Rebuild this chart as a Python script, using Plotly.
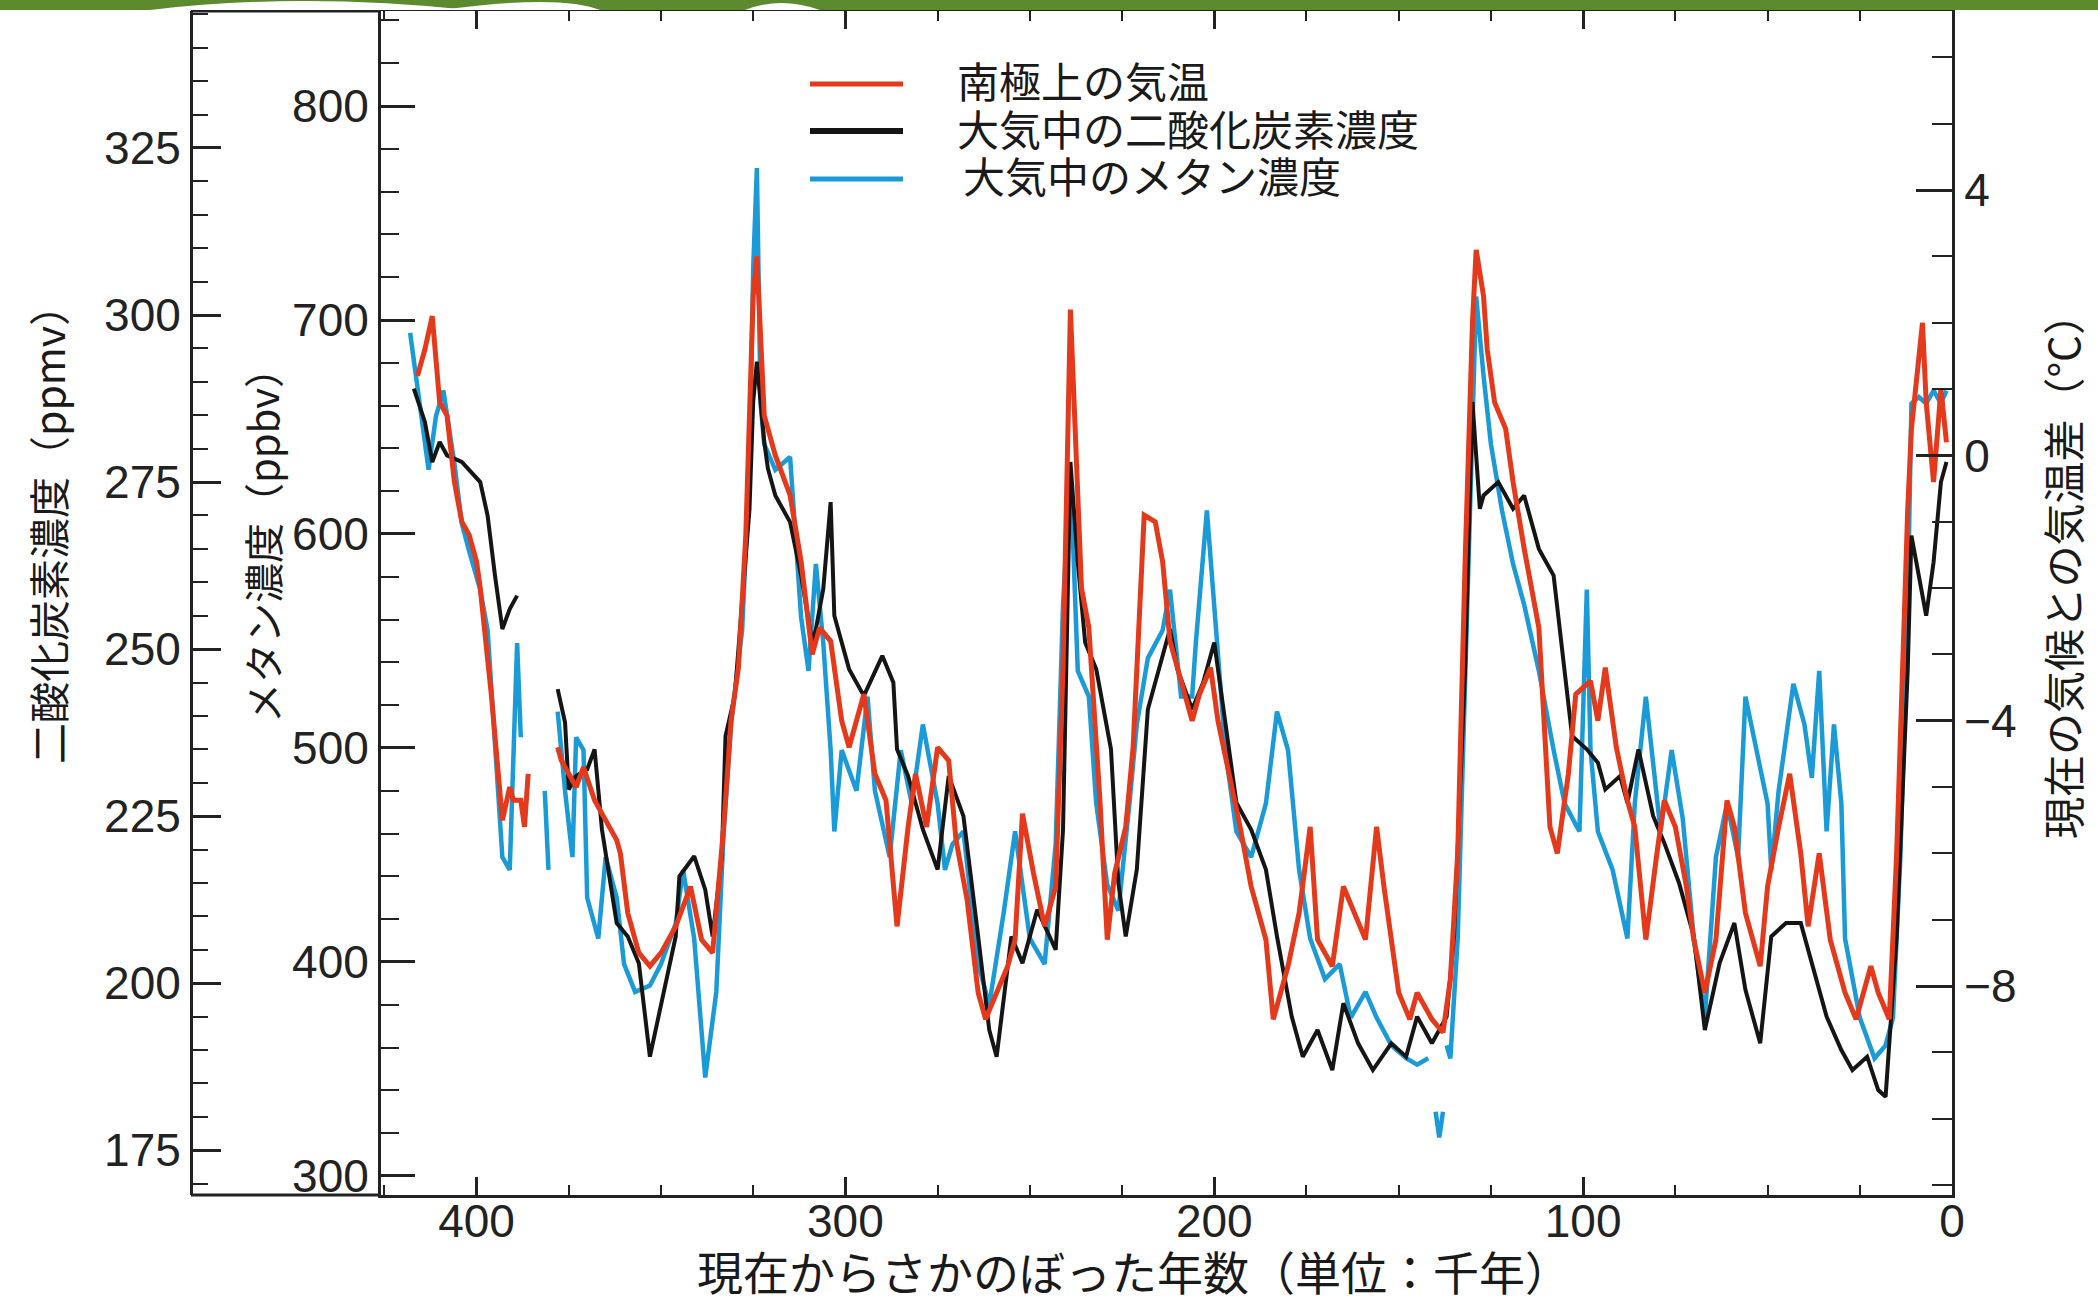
import plotly.graph_objects as go

# ---------------- data ----------------
# CO2 (ppmv) vs age (kyr before present)
co2_age = [417, 414, 412, 410, 408, 404, 399, 397, 395, 393,
           391, 389, 383, 378, 376, 375, 373, 370, 368, 366,
           362, 359, 356, 353, 350, 346, 345, 341, 338, 336,
           333.5, 332.5, 330, 328, 326, 325, 324, 322, 321, 319,
           315, 312, 309, 308, 306, 304, 303, 299, 295, 290,
           287, 286, 283, 279, 275, 272, 268, 264, 261, 259,
           255, 252, 248, 243, 241, 239, 237, 235, 232, 228,
           226, 224, 221, 218, 214, 212, 210, 206, 203, 200,
           197, 194, 190, 186, 183, 179, 176, 172, 168, 165,
           161, 157, 152, 148, 145, 141, 137, 135, 132, 130,
           128, 127, 123, 119, 116, 112, 108, 105, 103, 99,
           96, 94, 90, 88, 85, 81, 78, 74, 70, 67,
           63, 59, 56, 52, 49, 45, 41, 38, 34, 30,
           27, 23, 20, 18, 15, 12, 11, 9, 7, 5,
           3, 1.5]
co2_ppmv = [289, 284, 278, 281, 279, 278, 275, 270, 261, 253,
            256, 258, None, 244, 239, 229, 231, 232, 235, 223,
            209, 207, 203, 189, 197, 207, 216, 219, 214, 207,
            219, 237, 243, 257, 271, 287, 293, 281, 277, 273,
            269, 261, 251, 253, 259, 272, 255, 247, 243, 249,
            245, 235, 231, 223, 217, 231, 225, 207, 193, 189,
            207, 203, 211, 205, 223, 278, 263, 251, 247, 235,
            215, 207, 217, 241, 249, 253, 247, 241, 245, 251,
            239, 227, 223, 217, 207, 195, 189, 193, 187, 197,
            191, 187, 191, 189, 195, 191, 195, 207, 247, 287,
            271, 273, 275, 271, 273, 265, 261, 247, 237, 235,
            233, 229, 231, 227, 235, 225, 221, 215, 207, 193,
            203, 209, 199, 191, 207, 209, 209, 203, 195, 190,
            187, 189, 184, 183, 207, 247, 267, 261, 255, 263,
            275, 278]

# CH4 (ppbv) vs age (kyr before present)
ch4_age = [418, 416, 414, 413, 411, 409, 406, 404, 402, 400,
           399, 397, 395, 393, 391, 390, 389, 388, 385, 381.5,
           380.5, 380, 378, 376, 374, 373, 371, 370, 367, 365,
           362, 360, 357, 353, 350, 346, 344, 341, 338, 335,
           333, 331, 328, 326, 325, 324, 323, 322, 319, 315,
           312, 310, 308, 306, 304, 303, 301, 297, 294, 292,
           288, 285, 282, 279, 275, 273, 271, 268, 264, 261,
           257, 254, 250, 246, 243, 241, 239, 237, 234, 232,
           229, 226, 223, 221, 218, 214, 212, 209, 206, 205,
           202, 200, 197, 194, 190, 186, 183, 180, 177, 174,
           170, 166, 163, 159, 156, 152, 148, 145, 142, 141,
           140, 139, 138, 137.5, 137, 136, 134, 132, 130, 129,
           127, 125, 122, 119, 116, 112, 108, 105, 101, 99,
           98, 96, 92, 88, 86, 83, 79, 76, 73, 70,
           67, 64, 61, 58, 56, 53, 50, 49, 47, 43,
           40, 38, 36, 34, 32, 30, 29, 25, 21, 18,
           16, 14, 12, 11, 9, 7, 5, 3, 1.5]
ch4_ppbv = [694, 668, 642, 630, 655, 667, 633, 605, 592, 580,
            574, 555, 499, 449, 443, 499, 549, 505, None, 480,
            443, None, 517, 480, 449, 505, 499, 430, 411, 449,
            430, 399, 386, 389, 399, 418, 443, 411, 346, 386,
            461, 511, 555, 630, 724, 771, 661, 642, 630, 636,
            561, 536, 586, 549, 499, 461, 499, 480, 524, 480,
            449, 499, 474, 511, 474, 443, 455, 461, 399, 380,
            424, 461, 411, 399, 455, 567, 630, 536, 524, 474,
            436, 424, 474, 511, 542, 555, 574, 524, 524, 549,
            611, 567, 499, 461, 449, 474, 517, 499, 443, 411,
            392, 399, 374, 386, 374, 361, 355, 352, 355, None,
            330, 318, 330, None, 361, 355, 411, 536, 661, 711,
            674, 642, 611, 586, 567, 536, 499, 474, 461, 574,
            499, 461, 443, 411, 474, 524, 461, 499, 467, 411,
            374, 449, 474, 449, 524, 499, 474, 443, 480, 530,
            511, 486, 536, 461, 511, 474, 411, 374, 355, 361,
            374, 449, 567, 661, 664, 661, 667, 661, 667]

# Antarctic temperature difference from present (deg C) vs age (kyr)
temp_age = [416, 414, 412, 410, 408, 406, 404, 402, 400, 399,
            396, 394, 393, 391, 390, 388, 387, 386, 382, 378,
            377, 375, 373, 371, 368, 366, 362, 361, 359, 356,
            353, 350, 346, 342, 339, 336, 333, 331, 329, 327,
            325, 324, 323, 322, 319, 315, 312, 309, 307, 304,
            301, 299, 295, 292, 289, 286, 283, 281, 278, 275,
            272, 270, 267, 264, 262, 259, 256, 254, 252, 249,
            246, 243, 241, 239, 238, 236, 234, 231, 229, 227,
            224, 222, 219, 216, 214, 212, 209, 206, 204, 201,
            199, 196, 193, 190, 186, 184, 180, 177, 174, 172,
            168, 165, 162, 159, 156, 154, 150, 147, 145, 141,
            138, 136, 134, 132, 130, 129, 127, 126, 124, 121,
            119, 116, 112, 109, 107, 104, 102, 98, 96, 94,
            91, 88, 86, 83, 80, 78, 75, 72, 70, 67,
            64, 61, 59, 56, 52, 50, 47, 44, 41, 39,
            36, 33, 29, 26, 22, 20, 17, 15, 12, 11,
            8, 7, 5, 3, 1.5]
temp_c = [1.2, 1.6, 2.1, 0.8, 0.6, -0.4, -1.0, -1.2, -1.6, -2.0,
          -3.6, -5.0, -5.5, -5.0, -5.2, -5.2, -5.6, -4.8, None, -4.4,
          -4.6, -4.8, -5.0, -4.7, -5.2, -5.4, -5.8, -6.0, -6.9, -7.5,
          -7.7, -7.5, -7.1, -6.5, -7.3, -7.5, -5.6, -4.0, -3.2, -1.2,
          2.4, 3.0, 1.6, 0.6, 0.0, -0.6, -1.6, -3.0, -2.6, -2.8,
          -4.0, -4.4, -3.6, -4.8, -5.2, -7.1, -5.6, -4.8, -5.6, -4.4,
          -4.6, -5.8, -6.7, -8.1, -8.5, -8.1, -7.7, -7.3, -5.4, -6.3,
          -7.1, -6.5, -3.2, 2.2, 0.8, -2.0, -2.6, -5.2, -7.3, -6.3,
          -5.6, -4.4, -0.9, -1.0, -1.6, -2.8, -3.4, -4.0, -3.6, -3.2,
          -4.0, -4.8, -5.6, -6.5, -7.3, -8.5, -7.7, -6.9, -5.6, -7.3,
          -7.7, -6.5, -6.9, -7.3, -5.6, -6.5, -8.1, -8.5, -8.1, -8.5,
          -8.7, -7.9, -6.0, -1.6, 2.0, 3.1, 2.4, 1.6, 0.8, 0.4,
          -0.4, -1.4, -2.6, -5.6, -6.0, -4.8, -3.6, -3.4, -4.0, -3.2,
          -4.4, -5.2, -5.6, -7.3, -6.0, -5.2, -5.6, -6.5, -7.3, -8.1,
          -7.3, -5.2, -5.6, -6.9, -7.7, -6.5, -5.6, -4.8, -6.0, -7.1,
          -6.0, -7.3, -8.1, -8.5, -7.7, -8.1, -8.5, -6.0, -0.8, 0.4,
          2.0, 0.8, -0.4, 1.0, 0.2]

series_names = ["南極上の気温", "大気中の二酸化炭素濃度", "大気中のメタン濃度"]
series_colors = ["#e5391b", "#151515", "#1a9bd7"]

x_ticks = [400, 300, 200, 100, 0]

# ---------------- figure ----------------
W, H = 2098, 1304
def px(x):
    return x / W
def py(y):
    return 1 - y / H

NUM_FONT = "Liberation Sans, Arial, sans-serif"
JP_FONT = "Noto Sans CJK JP, sans-serif"
AX = "#222222"
TXT = "#1a1a1a"

fig = go.Figure()
fig.add_trace(go.Scatter(x=temp_age, y=temp_c, mode="lines", name=series_names[0],
                         line=dict(color=series_colors[0], width=5), yaxis="y3",
                         showlegend=False))
fig.add_trace(go.Scatter(x=ch4_age, y=ch4_ppbv, mode="lines", name=series_names[2],
                         line=dict(color=series_colors[2], width=4.5), yaxis="y",
                         showlegend=False))
fig.add_trace(go.Scatter(x=co2_age, y=co2_ppmv, mode="lines", name=series_names[1],
                         line=dict(color=series_colors[1], width=4), yaxis="y2",
                         showlegend=False))

ydom = [py(1195), py(11)]
TICKFONT = dict(family=NUM_FONT, size=46, color=AX)

fig.update_layout(
    width=W, height=H, autosize=False,
    margin=dict(l=0, r=0, t=0, b=0),
    paper_bgcolor="white", plot_bgcolor="rgba(0,0,0,0)",
    xaxis=dict(
        domain=[px(381), px(1952)], range=[425.9, 0],
        tickmode="array", tickvals=x_ticks, ticktext=[str(v) for v in x_ticks],
        ticks="inside", ticklen=18, tickwidth=2.5, tickcolor=AX,
        minor=dict(dtick=25, tick0=0, ticks="inside", ticklen=10, tickwidth=2, tickcolor=AX),
        showline=True, linewidth=3, linecolor=AX, mirror="ticks",
        showgrid=False, zeroline=False, automargin=False,
        ticklabelstandoff=-16,
        tickfont=TICKFONT,
    ),
    yaxis=dict(
        domain=ydom, range=[291.1, 844.4], anchor="x", side="left",
        tick0=0, dtick=100,
        ticks="inside", ticklen=34, tickwidth=2.5, tickcolor=AX,
        minor=dict(dtick=20, tick0=0, ticks="inside", ticklen=18, tickwidth=2, tickcolor=AX),
        showline=True, linewidth=3, linecolor=AX,
        showgrid=False, zeroline=False, automargin=False,
        tickfont=TICKFONT,
    ),
    yaxis2=dict(
        overlaying="y", anchor="free", position=px(191), side="left",
        range=[168.3, 345.5], tick0=0, dtick=25,
        ticks="inside", ticklen=28, tickwidth=2.5, tickcolor=AX,
        minor=dict(dtick=5, tick0=0, ticks="inside", ticklen=15, tickwidth=2, tickcolor=AX),
        showline=True, linewidth=3, linecolor=AX,
        showgrid=False, zeroline=False, automargin=False,
        tickfont=TICKFONT,
    ),
    yaxis3=dict(
        overlaying="y", anchor="x", side="right",
        range=[-11.15, 6.70], tick0=0, dtick=4,
        ticks="inside", ticklen=36, tickwidth=2.5, tickcolor=AX,
        minor=dict(dtick=1, tick0=0, ticks="inside", ticklen=20, tickwidth=2, tickcolor=AX),
        showline=True, linewidth=3, linecolor=AX,
        showgrid=False, zeroline=False, automargin=False,
        tickfont=TICKFONT,
    ),
)

shapes = []
# frame extension from CO2 axis to methane axis (top and bottom)
for yy in (1195, 11):
    shapes.append(dict(type="line", xref="paper", yref="paper",
                       x0=px(191), x1=px(381), y0=py(yy), y1=py(yy),
                       line=dict(color=AX, width=3)))
# green band across the top
shapes.append(dict(type="rect", xref="paper", yref="paper", x0=0, x1=1,
                   y0=py(10), y1=1, fillcolor="#5c8a2e", line=dict(width=0), layer="above"))
shapes.append(dict(type="path", xref="paper", yref="paper",
                   path=f"M {px(150)},{py(10)} Q {px(300)},{py(-8)} {px(470)},{py(10)} Z",
                   fillcolor="white", line=dict(width=0), layer="above"))
shapes.append(dict(type="path", xref="paper", yref="paper",
                   path=f"M {px(440)},{py(10)} Q {px(560)},{py(-6)} {px(600)},{py(10)} Z",
                   fillcolor="white", line=dict(width=0), layer="above"))
shapes.append(dict(type="path", xref="paper", yref="paper",
                   path=f"M {px(745)},{py(10)} Q {px(780)},{py(-4)} {px(820)},{py(10)} Z",
                   fillcolor="white", line=dict(width=0), layer="above"))
# manual legend sample lines
leg_y = [84, 131, 179]
for c, yy, w in zip(series_colors, leg_y, [5, 6, 5]):
    shapes.append(dict(type="line", xref="paper", yref="paper",
                       x0=px(810), x1=px(903), y0=py(yy), y1=py(yy),
                       line=dict(color=c, width=w)))

annotations = []
leg_text_y = [80, 127, 175]
leg_text_x = [955, 955, 961]
for name, yy, xx in zip(series_names, leg_text_y, leg_text_x):
    annotations.append(dict(text=name, xref="paper", yref="paper", x=px(xx), y=py(yy),
                            xanchor="left", yanchor="middle", showarrow=False,
                            font=dict(family=JP_FONT, size=42, color=TXT)))

annotations += [
    dict(text="二酸化炭素濃度（ppmv）", xref="paper", yref="paper", x=px(47), y=py(525),
         textangle=-90, showarrow=False, xanchor="center", yanchor="middle",
         font=dict(family=JP_FONT, size=41, color=TXT)),
    dict(text="メタン濃度（ppbv）", xref="paper", yref="paper", x=px(262), y=py(536),
         textangle=-90, showarrow=False, xanchor="center", yanchor="middle",
         font=dict(family=JP_FONT, size=40, color=TXT)),
    dict(text="現在の気候との気温差（°C）", xref="paper", yref="paper", x=px(2061), y=py(566),
         textangle=-90, showarrow=False, xanchor="center", yanchor="middle",
         font=dict(family=JP_FONT, size=42, color=TXT)),
    dict(text="現在からさかのぼった年数（単位：千年）", xref="paper", yref="paper",
         x=px(1134), y=py(1270), showarrow=False, xanchor="center", yanchor="middle",
         font=dict(family=JP_FONT, size=46, color=TXT)),
]

fig.update_layout(shapes=shapes, annotations=annotations)
fig.write_html("out.html", config={"displayModeBar": False},
               post_script="document.body.style.margin='0px';document.body.style.overflow='hidden';")
